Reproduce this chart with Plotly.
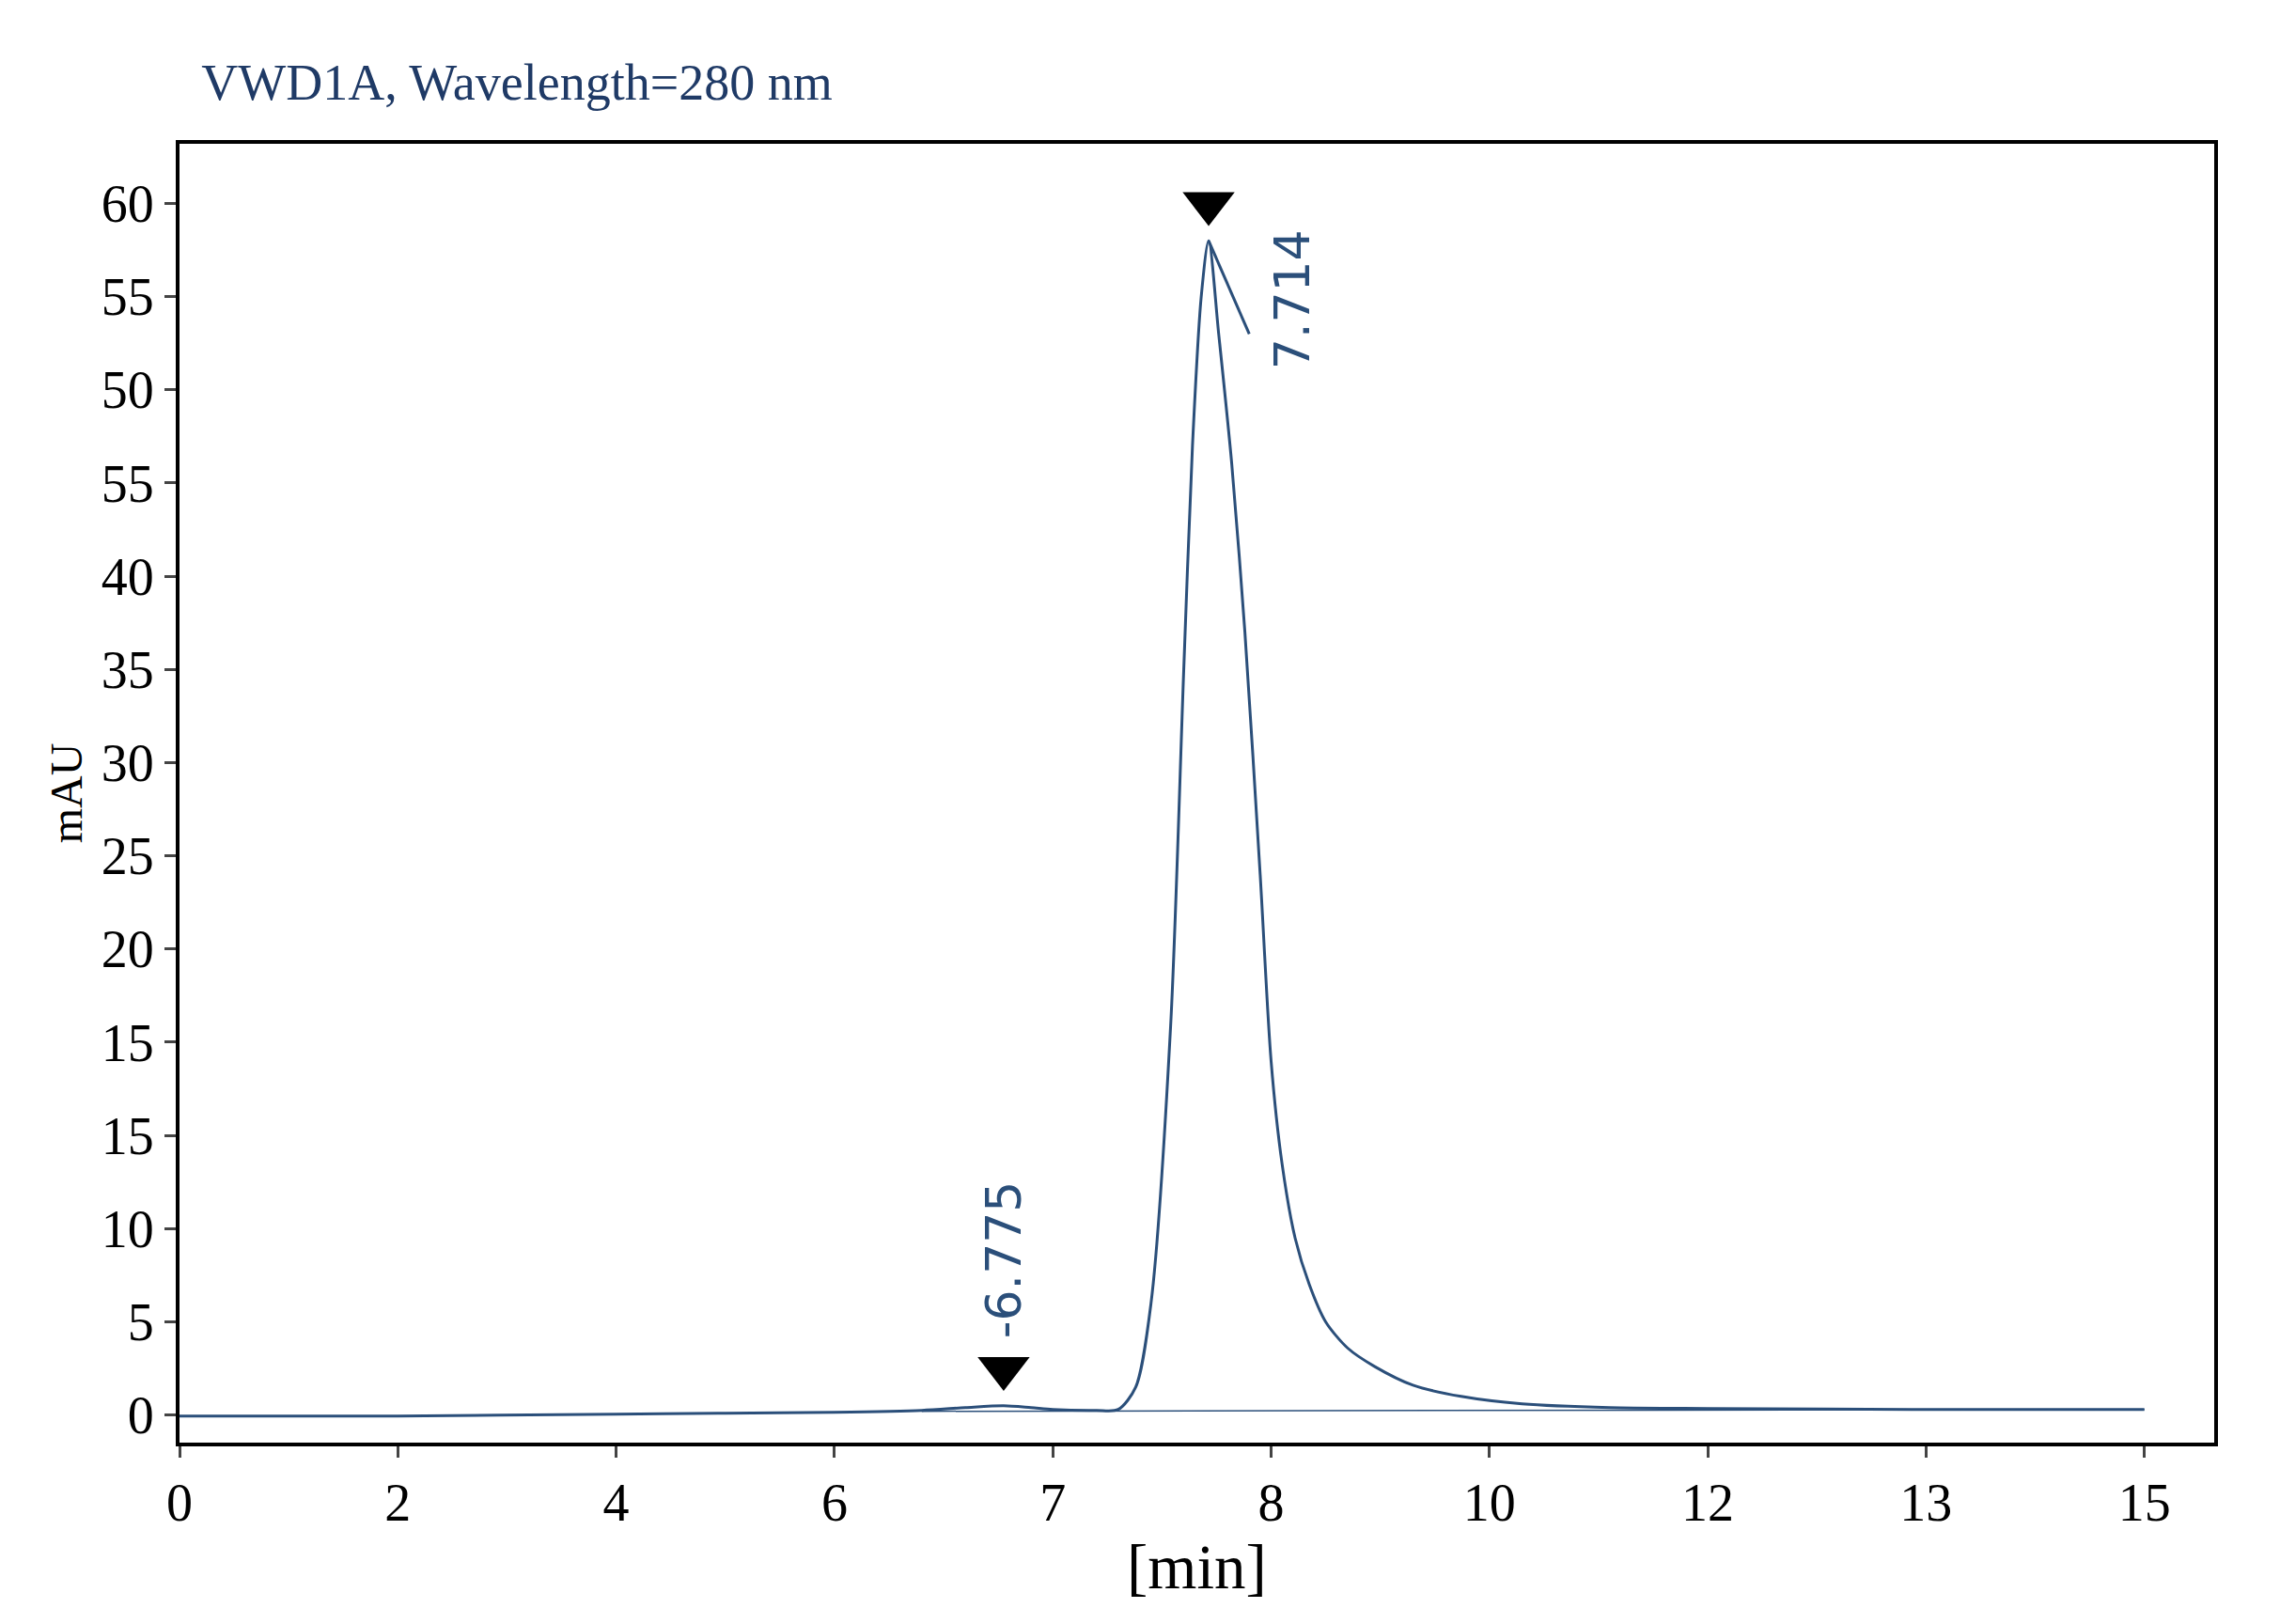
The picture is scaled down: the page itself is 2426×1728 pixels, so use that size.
import numpy as np
import plotly.graph_objects as go

# x tick labels as printed (equally spaced on the axis)
x_labels = ["0", "2", "4", "6", "7", "8", "10", "12", "13", "15"]
x_label_vals = [0, 2, 4, 6, 7, 8, 10, 12, 13, 15]
# y tick labels as printed
y_labels = ["0", "5", "10", "15", "15", "20", "25", "30", "35", "40", "55", "50", "55", "60"]
y_tickvals = [5 * i for i in range(len(y_labels))]

# trace: time [min], signal (in axis units)
t = [0, 2, 4, 5, 6, 6.4, 6.6, 6.775, 6.9, 7.0, 7.2, 7.3, 7.38, 7.45, 7.54, 7.6, 7.64, 7.68, 7.714,
     7.76, 7.82, 7.88, 7.95, 8.0, 8.1, 8.22, 8.35, 8.5, 8.7, 8.95, 9.3, 9.74, 10.3, 11.1, 12, 13, 15]
sig = [-0.05, -0.05, 0.05, 0.1, 0.15, 0.25, 0.4, 0.5, 0.4, 0.3, 0.25, 0.3, 1.5, 6.0, 20.9, 40, 52, 60, 63.0,
       58, 51, 42, 29, 19, 13.5, 9.5, 7.0, 5.0, 3.6, 2.6, 1.6, 1.0, 0.6, 0.4, 0.35, 0.3, 0.3]
peaks_t = [6.775, 7.714]
peaks_y = [0.5, 63.0]
peak_names = ["-6.775", "7.714"]

def xpos(v):
    return np.interp(v, x_label_vals, range(len(x_labels)))

blue = "#2b4f7a"
fig = go.Figure()
fig.add_trace(go.Scatter(x=xpos(t), y=sig, mode="lines",
                         line=dict(color=blue, width=3, shape="spline", smoothing=0.8)))
# baseline
fig.add_trace(go.Scatter(x=xpos([6.4, 15]), y=[0.2, 0.3], mode="lines", line=dict(color=blue, width=1.5)))
# peak tick line
fig.add_trace(go.Scatter(x=xpos([7.714, 7.9]), y=[63.0, 58.0], mode="lines", line=dict(color=blue, width=3)))
fig.add_trace(go.Scatter(x=xpos(peaks_t), y=[p + 2.0 for p in peaks_y], mode="markers",
                         marker=dict(symbol="triangle-down", size=48, color="black")))

fig.add_annotation(x=xpos(6.775), y=4.0, text=peak_names[0], textangle=-90, showarrow=False,
                   xanchor="center", yanchor="bottom", font=dict(size=52, color=blue, family="DejaVu Sans"))
fig.add_annotation(x=xpos(8.2), y=56, text=peak_names[1], textangle=-90, showarrow=False,
                   xanchor="center", yanchor="bottom", font=dict(size=52, color=blue, family="DejaVu Sans"))

fig.update_layout(
    width=2426, height=1728, showlegend=False,
    plot_bgcolor="white", paper_bgcolor="white",
    margin=dict(l=183, r=78, t=145, b=201),
    font=dict(family="Liberation Serif", size=56, color="black"),
    title=dict(text="VWD1A, Wavelength=280 nm", x=0.085, y=0.965, xanchor="left",
               font=dict(size=54, color="#1f3a66", family="Liberation Serif")),
)
fig.update_xaxes(range=[0, 9.32], tickvals=list(range(len(x_labels))), ticktext=x_labels,
                 showline=True, mirror=True, linecolor="black", linewidth=4, ticks="outside",
                 ticklen=12, tickwidth=3, showgrid=False, zeroline=False,
                 title=dict(text="[min]", standoff=10))
fig.update_yaxes(range=[-1.48, 68.2], tickvals=y_tickvals, ticktext=y_labels,
                 showline=True, mirror=True, linecolor="black", linewidth=4, ticks="outside",
                 ticklen=12, tickwidth=3, showgrid=False, zeroline=False,
                 title=dict(text="mAU", standoff=6, font=dict(size=48)))
fig.write_html("out.html")
